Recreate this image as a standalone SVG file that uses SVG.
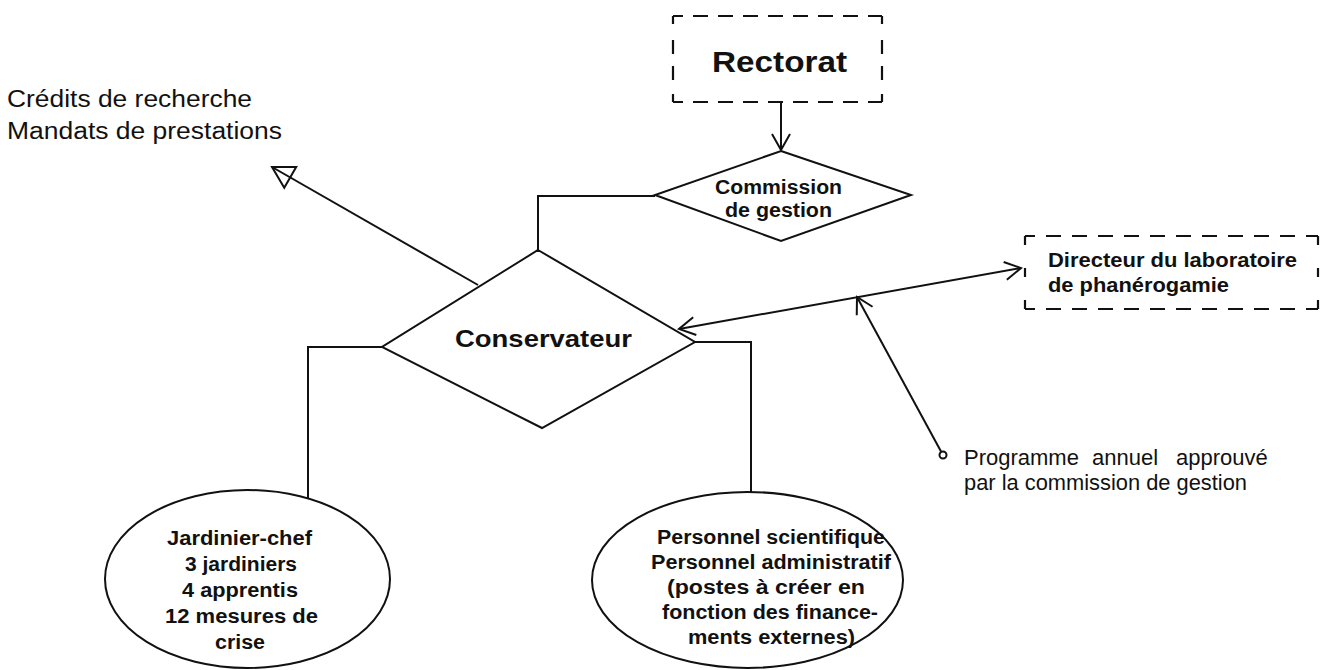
<svg xmlns="http://www.w3.org/2000/svg" width="1333" height="670" viewBox="0 0 1333 670">
<defs>
<style>
.ln{fill:none;stroke:#111;stroke-width:2;stroke-linejoin:miter}
.sh{fill:#fff;stroke:#111;stroke-width:2}
.ds{fill:none;stroke:#111;stroke-width:2.2}
.b{font-family:"Liberation Sans",Arial,sans-serif;font-weight:bold;fill:#111}
.r{font-family:"Liberation Sans",Arial,sans-serif;fill:#111}
</style>
<marker id="v" markerUnits="userSpaceOnUse" markerWidth="40" markerHeight="40" viewBox="-20 -20 40 40" refX="0" refY="0" orient="auto-start-reverse">
<path d="M-16,-9 L0,0 L-16,9" fill="none" stroke="#111" stroke-width="2"/>
</marker>
<marker id="tri" markerUnits="userSpaceOnUse" markerWidth="50" markerHeight="50" viewBox="-25 -25 50 50" refX="0" refY="0" orient="auto">
<path d="M0,0 L-21,-12 L-21,12 Z" fill="none" stroke="#111" stroke-width="2"/>
</marker>
</defs>
<rect width="1333" height="670" fill="#fff"/>

<g id="connectors">
<line class="ln" x1="781" y1="102" x2="781" y2="150" marker-end="url(#v)"/>
<polyline class="ln" points="655,196 538,196 538,250"/>
<polyline class="ln" points="382,347 308,347 308,498"/>
<polyline class="ln" points="695,342 751,342 751,493"/>
<line class="ln" x1="478" y1="285" x2="272" y2="167" marker-end="url(#tri)"/>
<line class="ln" x1="679" y1="329" x2="1021" y2="268" marker-start="url(#v)" marker-end="url(#v)"/>
<line class="ln" x1="941.3" y1="451.9" x2="857" y2="297" marker-end="url(#v)"/>
<circle cx="943" cy="455" r="3.5" fill="#fff" stroke="#111" stroke-width="2"/>
</g>

<g id="rectorat">
<line class="ds" x1="673" y1="16" x2="882" y2="16" stroke-dasharray="15 10" stroke-dashoffset="5"/>
<line class="ds" x1="673" y1="102" x2="882" y2="102" stroke-dasharray="15 10" stroke-dashoffset="5"/>
<line class="ds" x1="673" y1="16" x2="673" y2="102" stroke-dasharray="8 16 14 12 14 14 8"/>
<line class="ds" x1="882" y1="16" x2="882" y2="102" stroke-dasharray="8 16 14 12 14 14 8"/>
<text class="b" x="712" y="72" font-size="30" textLength="135" lengthAdjust="spacingAndGlyphs">Rectorat</text>
</g>

<g id="commission">
<polygon class="sh" points="781,151 911,195 781,241 655,195"/>
<text class="b" x="715" y="194" font-size="20" textLength="127" lengthAdjust="spacingAndGlyphs">Commission</text>
<text class="b" x="725" y="217" font-size="20" textLength="107" lengthAdjust="spacingAndGlyphs">de gestion</text>
</g>

<g id="conservateur">
<polygon class="sh" points="538,250 695,342 542,428 382,347"/>
<text class="b" x="455" y="347" font-size="24" textLength="177" lengthAdjust="spacingAndGlyphs">Conservateur</text>
</g>

<g id="directeur">
<line class="ds" x1="1025" y1="236" x2="1318" y2="236" stroke-dasharray="15 11" stroke-dashoffset="5"/>
<line class="ds" x1="1025" y1="309" x2="1318" y2="309" stroke-dasharray="15 11" stroke-dashoffset="5"/>
<line class="ds" x1="1025" y1="236" x2="1025" y2="309" stroke-dasharray="9 23 9 23 9"/>
<line class="ds" x1="1318" y1="236" x2="1318" y2="309" stroke-dasharray="9 23 9 23 9"/>
<text class="b" x="1048" y="267" font-size="20" textLength="249" lengthAdjust="spacingAndGlyphs">Directeur du laboratoire</text>
<text class="b" x="1048" y="292" font-size="20" textLength="181" lengthAdjust="spacingAndGlyphs">de phanérogamie</text>
</g>

<g id="credits">
<text class="r" x="7" y="107" font-size="23" textLength="245" lengthAdjust="spacingAndGlyphs">Crédits de recherche</text>
<text class="r" x="7" y="139" font-size="23" textLength="275" lengthAdjust="spacingAndGlyphs">Mandats de prestations</text>
</g>

<g id="programme">
<text class="r" y="465" font-size="22"><tspan x="964">Programme</tspan><tspan x="1092">annuel</tspan><tspan x="1176">approuvé</tspan></text>
<text class="r" x="964" y="490" font-size="22" textLength="283" lengthAdjust="spacingAndGlyphs">par la commission de gestion</text>
</g>

<g id="jardinier">
<ellipse class="sh" cx="247.5" cy="579" rx="142.5" ry="89"/>
<text class="b" x="167" y="545" font-size="20" textLength="145" lengthAdjust="spacingAndGlyphs">Jardinier-chef</text>
<text class="b" x="185" y="571" font-size="20" textLength="112" lengthAdjust="spacingAndGlyphs">3 jardiniers</text>
<text class="b" x="182" y="597" font-size="20" textLength="116" lengthAdjust="spacingAndGlyphs">4 apprentis</text>
<text class="b" x="165" y="623" font-size="20" textLength="153" lengthAdjust="spacingAndGlyphs">12 mesures de</text>
<text class="b" x="215" y="649" font-size="20" textLength="50" lengthAdjust="spacingAndGlyphs">crise</text>
</g>

<g id="personnel">
<ellipse class="sh" cx="747.5" cy="580" rx="155.5" ry="88"/>
<text class="b" x="657" y="544" font-size="20" textLength="228" lengthAdjust="spacingAndGlyphs">Personnel scientifique</text>
<text class="b" x="651" y="569" font-size="20" textLength="240" lengthAdjust="spacingAndGlyphs">Personnel administratif</text>
<text class="b" x="667" y="594" font-size="20" textLength="198" lengthAdjust="spacingAndGlyphs">(postes à créer en</text>
<text class="b" x="662" y="619" font-size="20" textLength="216" lengthAdjust="spacingAndGlyphs">fonction des finance-</text>
<text class="b" x="688" y="644" font-size="20" textLength="167" lengthAdjust="spacingAndGlyphs">ments externes)</text>
</g>
</svg>
